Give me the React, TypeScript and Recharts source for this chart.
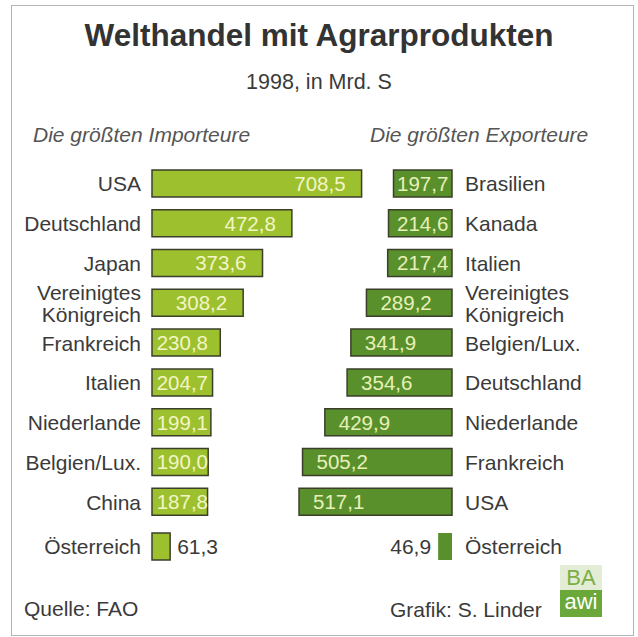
import React from "react";
import { BarChart, Bar, XAxis, YAxis, LabelList } from "recharts";

const importCountries = ["USA", "Deutschland", "Japan", "Vereinigtes Königreich", "Frankreich", "Italien", "Niederlande", "Belgien/Lux.", "China"];
const importValues = [708.5, 472.8, 373.6, 308.2, 230.8, 204.7, 199.1, 190.0, 187.8];
const exportCountries = ["Brasilien", "Kanada", "Italien", "Vereinigtes Königreich", "Belgien/Lux.", "Deutschland", "Niederlande", "Frankreich", "USA"];
const exportValues = [197.7, 214.6, 217.4, 289.2, 341.9, 354.6, 429.9, 505.2, 517.1];
const austriaName = "Österreich";
const austriaImport = [61.3];
const austriaExport = [46.9];

const importData = importCountries.map((name, i) => ({ name, value: importValues[i] }));
const exportData = exportCountries.map((name, i) => ({ name, value: exportValues[i] }));
const austriaImportData = austriaImport.map((value) => ({ name: austriaName, value }));
const austriaExportData = austriaExport.map((value) => ({ name: austriaName, value }));

const FONT = '"Liberation Sans", Arial, Helvetica, sans-serif';
const TEXT = "#3a3a3a";
const IMP_FILL = "#9dc02f";
const EXP_FILL = "#5a902c";
const STROKE = "#3b3f2a";
const DOMAIN: [number, number] = [0, 720];
const fmt = (v: number) => v.toFixed(1).replace(".", ",");

const LeftTick = (props: any) => {
  const { x, y, payload } = props;
  const s: string = payload.value;
  if (s.length > 14 && s.includes(" ")) {
    const parts = s.split(" ");
    return (
      <text x={x} y={y} textAnchor="end" fill={TEXT} fontSize={21} fontFamily={FONT}>
        <tspan x={x} dy="-0.15em">{parts[0]}</tspan>
        <tspan x={x} dy="1.05em">{parts.slice(1).join(" ")}</tspan>
      </text>
    );
  }
  return (
    <text x={x} y={y} dy="0.36em" textAnchor="end" fill={TEXT} fontSize={21} fontFamily={FONT}>{s}</text>
  );
};

const RightTick = (props: any) => {
  const { x, y, payload } = props;
  const s: string = payload.value;
  if (s.length > 14 && s.includes(" ")) {
    const parts = s.split(" ");
    return (
      <text x={x} y={y} textAnchor="start" fill={TEXT} fontSize={21} fontFamily={FONT}>
        <tspan x={x} dy="-0.15em">{parts[0]}</tspan>
        <tspan x={x} dy="1.05em">{parts.slice(1).join(" ")}</tspan>
      </text>
    );
  }
  return (
    <text x={x} y={y} dy="0.36em" textAnchor="start" fill={TEXT} fontSize={21} fontFamily={FONT}>{s}</text>
  );
};

const geom = (props: any) => {
  const x = Number(props.x), w = Number(props.width), y = Number(props.y), h = Number(props.height);
  return { left: Math.min(x, x + w), right: Math.max(x, x + w), cy: y + h / 2 };
};

const ImportLabel = (props: any) => {
  const { left, right, cy } = geom(props);
  const tx = Math.max(right - 16, left + 56);
  return (
    <text x={tx} y={cy} dy="0.36em" textAnchor="end" fill="#f3f5c6" fontSize={20.5} fontFamily={FONT}>{fmt(Number(props.value))}</text>
  );
};

const ExportLabel = (props: any) => {
  const { left, right, cy } = geom(props);
  const tx = Math.min(left + 14, right - 55);
  return (
    <text x={tx} y={cy} dy="0.36em" textAnchor="start" fill="#e6f0b8" fontSize={20.5} fontFamily={FONT}>{fmt(Number(props.value))}</text>
  );
};

const ImportOutsideLabel = (props: any) => {
  const { right, cy } = geom(props);
  return (
    <text x={right + 7} y={cy} dy="0.36em" textAnchor="start" fill={TEXT} fontSize={21} fontFamily={FONT}>{fmt(Number(props.value))}</text>
  );
};

const ExportOutsideLabel = (props: any) => {
  const { left, cy } = geom(props);
  return (
    <text x={left - 7} y={cy} dy="0.36em" textAnchor="end" fill={TEXT} fontSize={21} fontFamily={FONT}>{fmt(Number(props.value))}</text>
  );
};

const abs = (left: number, top: number): React.CSSProperties => ({ position: "absolute", left, top });

const ImportChart = ({ data, height, outside }: { data: any[]; height: number; outside?: boolean }) => (
  <BarChart width={370} height={height} data={data} layout="vertical" margin={{ top: 0, right: 5, bottom: 0, left: 0 }}>
    <XAxis type="number" domain={DOMAIN} hide />
    <YAxis type="category" dataKey="name" width={152} axisLine={false} tickLine={false} tickSize={0} tickMargin={11} tick={<LeftTick />} interval={0} />
    <Bar dataKey="value" fill={IMP_FILL} stroke={STROKE} strokeWidth={1.5} barSize={27} isAnimationActive={false}>
      <LabelList dataKey="value" content={outside ? <ImportOutsideLabel /> : <ImportLabel />} />
    </Bar>
  </BarChart>
);

const ExportChart = ({ data, height, outside }: { data: any[]; height: number; outside?: boolean }) => (
  <BarChart width={410} height={height} data={data} layout="vertical" margin={{ top: 0, right: 0, bottom: 0, left: 9 }}>
    <XAxis type="number" domain={DOMAIN} reversed hide />
    <YAxis type="category" orientation="right" dataKey="name" width={188} axisLine={false} tickLine={false} tickSize={0} tickMargin={13} tick={<RightTick />} interval={0} />
    <Bar dataKey="value" fill={EXP_FILL} stroke={outside ? "none" : STROKE} strokeWidth={1.5} barSize={27} isAnimationActive={false}>
      <LabelList dataKey="value" content={outside ? <ExportOutsideLabel /> : <ExportLabel />} />
    </Bar>
  </BarChart>
);

const txt = (size: number, extra?: React.CSSProperties): React.CSSProperties => ({
  fontFamily: FONT, fontSize: size, color: TEXT, lineHeight: 1, whiteSpace: "nowrap", ...extra,
});

export default function App() {
  return (
    <div style={{ position: "absolute", left: 0, top: 0, width: 638, height: 637, background: "#ffffff", overflow: "hidden" }}>
      <div style={{ position: "absolute", left: 11, top: 5, width: 621, height: 629, border: "1.5px solid #b4b4b4" }} />
      <div style={{ ...abs(0, 20), width: 638, textAlign: "center", ...txt(31.5, { fontWeight: "bold", color: "#333" }) }}>Welthandel mit Agrarprodukten</div>
      <div style={{ ...abs(0, 72), width: 638, textAlign: "center", ...txt(21.5) }}>1998, in Mrd. S</div>
      <div style={{ ...abs(33, 124), ...txt(21, { fontStyle: "italic", color: "#555" }) }}>Die größten Importeure</div>
      <div style={{ ...abs(370, 124), ...txt(21, { fontStyle: "italic", color: "#555" }) }}>Die größten Exporteure</div>

      <div style={abs(0, 164)}>
        <ImportChart data={importData} height={358} />
      </div>
      <div style={abs(230, 164)}>
        <ExportChart data={exportData} height={358} />
      </div>
      <div style={abs(0, 526)}>
        <ImportChart data={austriaImportData} height={40} outside />
      </div>
      <div style={abs(230, 526)}>
        <ExportChart data={austriaExportData} height={40} outside />
      </div>

      <div style={{ ...abs(24, 598), ...txt(21) }}>Quelle: FAO</div>
      <div style={{ ...abs(390, 599), ...txt(21) }}>Grafik: S. Linder</div>
      <div style={{ ...abs(560, 565), width: 42, height: 25, background: "#e3ecd4", color: "#7cae44", fontFamily: FONT, fontSize: 22, lineHeight: "25px", textAlign: "center" }}>BA</div>
      <div style={{ ...abs(560, 590), width: 42, height: 27, background: "#6aa83a", color: "#ffffff", fontFamily: FONT, fontSize: 22, lineHeight: "24px", textAlign: "center" }}>awi</div>
    </div>
  );
}
